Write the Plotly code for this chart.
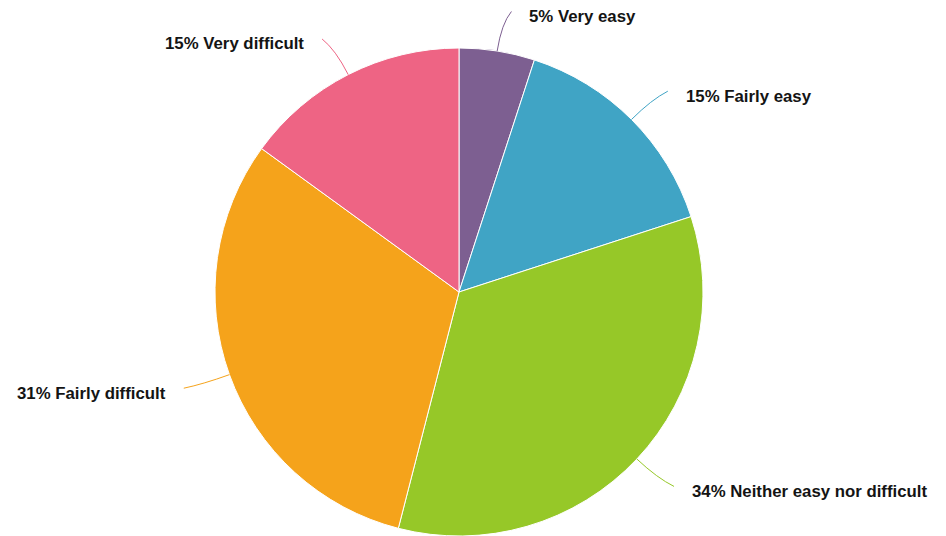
import math
import plotly.graph_objects as go

categories = ["Very easy", "Fairly easy", "Neither easy nor difficult", "Fairly difficult", "Very difficult"]
values = [5, 15, 34, 31, 15]
colors = ["#7D5F91", "#40A4C5", "#96C828", "#F5A31B", "#EE6484"]

W, H = 946, 536
# pie geometry (pixels) -> domain
cx, cy, r = 459, 292, 244
dom_x = [(cx - r) / W, (cx + r) / W]
dom_y = [max(0, 1 - (cy + r) / H), 1 - (cy - r) / H]

fig = go.Figure(go.Pie(
    labels=categories,
    values=values,
    sort=False,
    direction="clockwise",
    rotation=0,
    marker=dict(colors=colors, line=dict(color="white", width=1)),
    textinfo="none",
    showlegend=False,
    domain=dict(x=dom_x, y=dom_y),
))

def px2paper(x, y):
    return x / W, 1 - y / H

total = sum(values)
cum = 0
shapes = []
annotations = []
L, C, h = 40, 28, 8
for cat, v, col in zip(categories, values, colors):
    mid = (cum + v / 2) / total * 2 * math.pi
    cum += v
    ux, uy = math.sin(mid), -math.cos(mid)
    sign = 1 if ux > 0 else -1
    ex, ey = cx + r * ux, cy + r * uy
    qx, qy = ex + C * ux, ey + C * uy
    tx, ty = ex + L * ux + sign * h, ey + L * uy
    p = [px2paper(ex, ey), px2paper(qx, qy), px2paper(tx, ty)]
    path = "M {:.5f} {:.5f} Q {:.5f} {:.5f} {:.5f} {:.5f}".format(
        p[0][0], p[0][1], p[1][0], p[1][1], p[2][0], p[2][1])
    shapes.append(dict(type="path", path=path, xref="paper", yref="paper",
                       line=dict(color=col, width=1)))
    ax, ay = px2paper(tx + sign * 16, ty + 5)
    annotations.append(dict(
        x=ax, y=ay, xref="paper", yref="paper",
        text=f"<b>{v}% {cat}</b>", showarrow=False,
        xanchor="left" if sign > 0 else "right", yanchor="middle",
        font=dict(family="Liberation Sans, Arial, sans-serif", size=16.8, color="#141414"),
    ))

fig.update_layout(
    width=W, height=H,
    margin=dict(l=0, r=0, t=0, b=0),
    paper_bgcolor="white", plot_bgcolor="white",
    shapes=shapes,
    annotations=annotations,
    font=dict(family="Liberation Sans, Arial, sans-serif"),
)

fig.write_html("out.html", config={"displayModeBar": False},
               post_script="document.body.style.margin='0';document.body.style.overflow='hidden';")
